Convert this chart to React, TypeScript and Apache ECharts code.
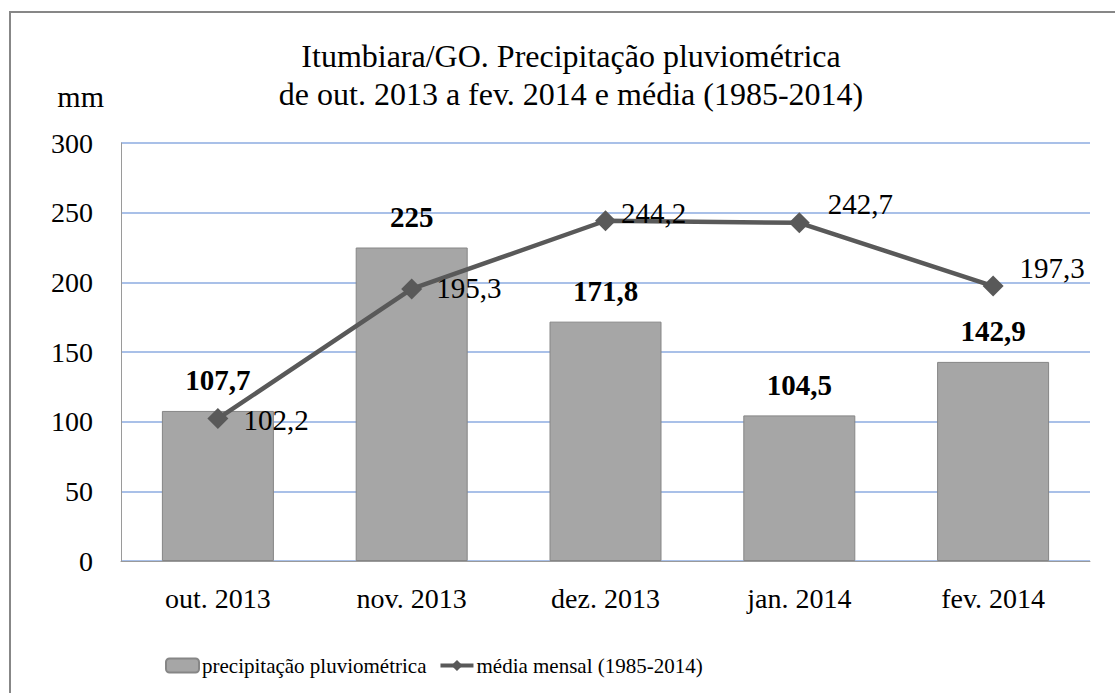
import React, { useEffect, useRef } from "react";
import * as echarts from "echarts";

const categories = ["out. 2013", "nov. 2013", "dez. 2013", "jan. 2014", "fev. 2014"];
const precipitacao = [107.7, 225, 171.8, 104.5, 142.9];
const media = [102.2, 195.3, 244.2, 242.7, 197.3];
const mediaLabelOffsets: [number, number][] = [
  [10, 1],
  [9, -1],
  [0, -8],
  [13, -19],
  [11, -18],
];

const fmt = (v: number) => String(v).replace(".", ",");
const FONT = "'Liberation Serif', 'Times New Roman', serif";

export default function App() {
  const ref = useRef<HTMLDivElement>(null);
  useEffect(() => {
    if (!ref.current) return;
    const chart = echarts.init(ref.current, null, { renderer: "svg" });
    chart.setOption({
      animation: false,
      backgroundColor: "#ffffff",
      textStyle: { fontFamily: FONT },
      title: {
        text: "Itumbiara/GO. Precipitação pluviométrica\nde out. 2013 a fev. 2014 e média (1985-2014)",
        left: 566,
        textAlign: "center",
        top: 32,
        textStyle: { fontFamily: FONT, fontSize: 32, fontWeight: "normal", color: "#000", lineHeight: 38 },
      },
      graphic: [
        {
          type: "rect",
          shape: { x: 10, y: 12, width: 1300, height: 900 },
          style: { fill: "none", stroke: "#878787", lineWidth: 2 },
          silent: true,
        },
      ],
      legend: {
        left: 160,
        top: 650,
        itemWidth: 33,
        itemHeight: 14,
        itemGap: 12,
        lineStyle: { width: 4 },
        textStyle: { fontFamily: FONT, fontSize: 21, color: "#000", padding: [0, 0, 0, -2] },
        data: ["precipitação pluviométrica", "média mensal (1985-2014)"],
      },
      grid: { left: 121, right: 25, top: 143, bottom: 132, containLabel: false },
      xAxis: {
        type: "category",
        data: categories,
        axisLine: { lineStyle: { color: "#9a9a9a", width: 1 } },
        axisTick: { show: false },
        axisLabel: { fontFamily: FONT, fontSize: 28, color: "#000", margin: 23 },
      },
      yAxis: {
        type: "value",
        name: "mm",
        nameLocation: "end",
        nameGap: 32,
        nameTextStyle: { fontFamily: FONT, fontSize: 30, color: "#000", align: "right", padding: [0, 17, 0, 0] },
        min: 0,
        max: 300,
        interval: 50,
        axisLine: { show: true, lineStyle: { color: "#9a9a9a", width: 1 } },
        axisTick: { show: false },
        axisLabel: { fontFamily: FONT, fontSize: 28, color: "#000", margin: 28 },
        splitLine: { lineStyle: { color: "#a9c0e8", width: 2 } },
      },
      series: [
        {
          name: "precipitação pluviométrica",
          type: "bar",
          data: precipitacao,
          barWidth: 112,
          itemStyle: { color: "#a6a6a6", borderColor: "#868686", borderWidth: 1 },
          label: {
            show: true,
            position: "top",
            distance: 16,
            formatter: (p: any) => fmt(p.value),
            fontFamily: FONT,
            fontSize: 29,
            fontWeight: "bold",
            color: "#000",
          },
        },
        {
          name: "média mensal (1985-2014)",
          type: "line",
          data: media.map((v, i) => ({
            value: v,
            label: { offset: mediaLabelOffsets[i] },
          })),
          symbol: "diamond",
          symbolSize: 21,
          lineStyle: { color: "#595959", width: 4.5 },
          itemStyle: { color: "#595959" },
          label: {
            show: true,
            position: "right",
            distance: 5,
            formatter: (p: any) => fmt(p.value),
            fontFamily: FONT,
            fontSize: 29,
            color: "#000",
          },
          z: 5,
        },
      ],
    });
    return () => chart.dispose();
  }, []);
  return (
    <div
      ref={ref}
      style={{ position: "fixed", left: 0, top: 0, width: 1115, height: 693 }}
    />
  );
}
